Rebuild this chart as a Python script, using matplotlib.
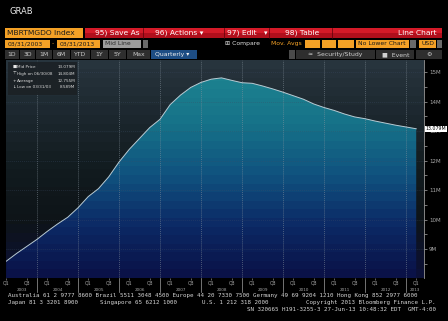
import numpy as np
import pandas as pd
import matplotlib
matplotlib.use("Agg")
import matplotlib.pyplot as plt
from matplotlib.colors import LinearSegmentedColormap
from matplotlib.patches import Rectangle

# MBRTMGDO Index, mid price (millions), quarterly 03/31/2003 .. 03/31/2013
quarters = pd.period_range('2003Q1', '2013Q1', freq='Q')
mid_price = [8.589, 8.85, 9.09, 9.33, 9.60, 9.85, 10.08, 10.40, 10.78, 11.05,
             11.45, 11.95, 12.38, 12.75, 13.12, 13.40, 13.90, 14.22, 14.48, 14.65,
             14.76, 14.804, 14.72, 14.64, 14.62, 14.53, 14.43, 14.32, 14.20, 14.08,
             13.92, 13.80, 13.70, 13.58, 13.48, 13.42, 13.34, 13.27, 13.20, 13.14,
             13.079]
y_ticks = [9, 10, 11, 12, 13, 14, 15]
years = list(range(2003, 2014))

x = np.array([q.year + q.quarter / 4 for q in quarters])
vals = np.array(mid_price)
xmin, xmax = 2003.244, 2013.44
ymin, ymax = 8.02, 15.41

fig = plt.figure(figsize=(4.48, 3.21), dpi=100, facecolor='black')

# ---- chart ----
ax = fig.add_axes([6 / 448, 43 / 321, 418 / 448, 218 / 321], zorder=1)
ax.set_xlim(xmin, xmax)
ax.set_ylim(ymin, ymax)

bg_cmap = LinearSegmentedColormap.from_list('bgc', ['#0b1036', '#0e1418', '#121b1f', '#1c272e', '#27343d'])
fill_cmap = LinearSegmentedColormap.from_list('fillc', ['#0a1248', '#0c2a66', '#10527f', '#167188', '#1d8290'])
grad = np.linspace(0, 1, 24).reshape(-1, 1)
ax.imshow(grad, extent=[xmin, xmax, ymin, ymax], origin='lower', aspect='auto',
          cmap=bg_cmap, interpolation='nearest', zorder=0)

poly = ax.fill_between(x, vals, ymin, color='none', lw=0)
img = ax.imshow(grad, extent=[xmin, xmax, ymin, 15.0], origin='lower', aspect='auto',
                cmap=fill_cmap, interpolation='nearest', zorder=1)
img.set_clip_path(poly.get_paths()[0], transform=ax.transData)
ax.plot(x, vals, color='#b9cbd3', lw=0.7, zorder=3)

for yb in years[1:]:
    ax.axvline(yb, color='#8a96a0', lw=0.4, ls=(0, (1.5, 2)), zorder=2)
for yt in y_ticks:
    ax.axhline(yt, color='#3c4c66', lw=0.4, ls=(0, (1.5, 2)), zorder=2, alpha=0.7)

for s in ['top', 'left', 'bottom']:
    ax.spines[s].set_visible(False)
ax.spines['right'].set_color('#9a9a9a')
ax.spines['right'].set_linewidth(0.6)
ax.yaxis.tick_right()
ax.set_yticks(y_ticks)
ax.set_yticklabels([f'{v}M' for v in y_ticks])
ax.set_yticks(np.arange(8.5, 15.5, 1.0), minor=True)
ax.tick_params(axis='y', which='both', colors='#a8a8a8', labelsize=4.0, length=2, width=0.5, pad=1.5)

qpos = [q.year + q.quarter / 4 for q in quarters if q.quarter in (1, 3)]
qlab = [f'Q{q.quarter}' for q in quarters if q.quarter in (1, 3)]
ax.set_xticks(qpos)
ax.set_xticklabels(qlab)
ax.tick_params(axis='x', colors='#a8a8a8', labelsize=3.3, length=1.5, width=0.4, pad=0.6)

xt = ax.get_xaxis_transform()
for yb in years[1:]:
    ax.plot([yb, yb], [0, -0.065], transform=xt, clip_on=False, color='#a0a0a0', lw=0.5)
for yr in years:
    c = (max(yr, xmin) + min(yr + 1, xmax)) / 2
    ax.text(c, -0.056, str(yr), transform=xt, ha='center', va='center',
            fontsize=3.0, color='#a8a8a8')

ax.annotate(f'{vals[-1]:.3f}M', xy=(1, vals[-1]), xycoords=('axes fraction', 'data'),
            xytext=(1.2, 0), textcoords='offset points', va='center', ha='left',
            fontsize=3.4, color='black', annotation_clip=False,
            bbox=dict(boxstyle='square,pad=0.15', fc='white', ec='none'))

# ---- overlay in pixel coords: toolbar, legend, footer ----
bg = fig.add_axes([0, 0, 1, 1], zorder=5)
bg.set_xlim(0, 448)
bg.set_ylim(321, 0)
bg.axis('off')
bg.patch.set_alpha(0)

def box(x0, y0, x1, y1, c, **kw):
    bg.add_patch(Rectangle((x0, y0), x1 - x0, y1 - y0, fc=c, ec='none', **kw))

def txt(xp, yp, s, c='white', fs=5.2, ha='left', **kw):
    bg.text(xp, yp, s, color=c, fontsize=fs, ha=ha, va='center', **kw)

txt(10, 11, 'GRAB', c='#e8e8e8', fs=6)

orange = '#f4a126'
# row 1
box(5, 28, 83, 38, orange)
txt(7, 33, 'MBRTMGDO Index', c='#1a1a1a', fs=5.4)
box(85, 28, 442, 33, '#d41a28')
box(85, 33, 442, 38, '#b00f1c')
for sx in [143, 224, 269, 332]:
    bg.plot([sx, sx], [28, 38], color='#5a0008', lw=0.5)
txt(95, 33, '95) Save As', fs=5.4)
txt(155, 33, '96) Actions \u25be', fs=5.4)
txt(227, 33, '97) Edit', fs=5.4)
txt(264, 33, '\u25be', fs=5)
txt(285, 33, '98) Table', fs=5.4)
txt(437, 33, 'Line Chart', fs=5.4, ha='right')

# row 2
box(5, 39.5, 50, 47.5, orange)
txt(8, 43.5, '03/31/2003', c='#1a1a1a', fs=4.4)
txt(52, 43.5, '-', c=orange, fs=4.4)
box(57, 39.5, 100, 47.5, orange)
txt(60, 43.5, '03/31/2013', c='#1a1a1a', fs=4.4)
box(103, 39.5, 141, 47.5, '#9c9c9c')
txt(105, 43.5, 'Mid Line', c='#2a2a2a', fs=4.4)
box(143, 39.5, 148, 47.5, '#6a6a6a')
txt(225, 43.5, '\u229e Compare', c='#e0e0e0', fs=4.4)
txt(271, 43.5, 'Mov. Avgs', c=orange, fs=4.4)
for a, b in [(305, 320), (322, 336), (338, 354)]:
    box(a, 39.5, b, 47.5, orange)
box(356, 39.5, 409, 47.5, orange)
txt(358, 43.5, 'No Lower Chart', c='#1a1a1a', fs=4.4)
box(410, 39.5, 416, 47.5, '#6a6a6a')
box(419, 39.5, 436, 47.5, orange)
txt(421, 43.5, 'USD', c='#1a1a1a', fs=4.4)
box(437, 39.5, 442, 47.5, '#6a6a6a')

# row 3
for lab, a, b in [('1D', 5, 19), ('3D', 20, 35), ('1M', 36, 52), ('6M', 53, 70), ('YTD', 71, 90),
                  ('1Y', 91, 108), ('5Y', 109, 126), ('Max', 127, 150)]:
    box(a, 50, b, 59, '#2e2e2e')
    txt((a + b) / 2, 54.5, lab, c='#c8c8c8', fs=4.4, ha='center')
box(151, 50, 197, 59, '#1d4d84')
txt(155, 54.5, 'Quarterly \u25be', c='#f0f0f0', fs=4.4)
box(289, 50, 295, 59, '#4a4a4a')
box(296, 50, 375, 59, '#2e2e2e')
txt(308, 54.5, '\u2248  Security/Study', c='#d0d0d0', fs=4.4)
box(376, 50, 414, 59, '#2e2e2e')
txt(382, 54.5, '\u25a0  Event', c='#d0d0d0', fs=4.4)
box(416, 50, 442, 59, '#2e2e2e')
txt(429, 54.5, '\u2699', c='#d0d0d0', fs=4.4, ha='center')

# legend
box(8, 62, 77, 95, '#1c2226', alpha=0.95)
leg_rows = [('\u25a0', 'Mid Price', f'{vals[-1]:.3f}M'),
            ('\u22a4', 'High on 06/30/08', f'{vals.max():.3f}M'),
            ('+', 'Average', f'{vals.mean():.3f}M'),
            ('\u2193', 'Low on 03/31/03', f'{vals.min():.3f}M')]
for i, (ic, lab, v) in enumerate(leg_rows):
    yy = 67 + i * 6.8
    txt(12.5, yy, ic, c='#e8e8e8', fs=3.2)
    txt(17, yy, lab, c='#d8d8d8', fs=3.0)
    txt(75, yy, v, c='#d8d8d8', fs=3.0, ha='right')

# footer
mono = dict(family='DejaVu Sans Mono', fs=4.2, c='#d4d4d4')
txt(8, 295.5, 'Australia 61 2 9777 8600 Brazil 5511 3048 4500 Europe 44 20 7330 7500 '
    'Germany 49 69 9204 1210 Hong Kong 852 2977 6000', **mono)
txt(8, 302.5, 'Japan 81 3 3201 8900', **mono)
txt(100, 302.5, 'Singapore 65 6212 1000', **mono)
txt(202, 302.5, 'U.S. 1 212 318 2000', **mono)
txt(436, 302.5, 'Copyright 2013 Bloomberg Finance L.P.', ha='right', **mono)
txt(436, 309.5, 'SN 320665 H191-3255-3 27-Jun-13 10:48:32 EDT  GMT-4:00', ha='right', **mono)

fig.savefig('out.png', dpi=100, facecolor='black')
